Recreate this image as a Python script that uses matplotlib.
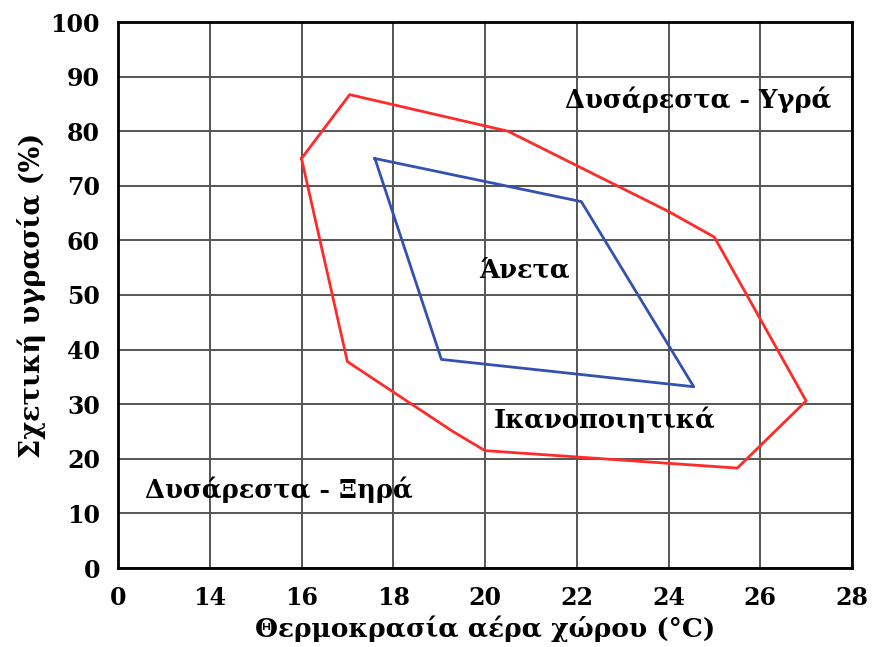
import matplotlib
matplotlib.use("Agg")
import matplotlib.pyplot as plt

# Data
red_x = [16.0, 17.05, 20.5, 24.0, 25.0, 27.0, 25.5, 20.0, 19.3, 17.0, 16.0]
red_y = [75.0, 86.7, 80.0, 65.3, 60.6, 30.6, 18.3, 21.5, 25.0, 37.8, 75.0]
blue_x = [17.6, 22.1, 24.55, 19.05, 17.6]
blue_y = [75.0, 67.1, 33.2, 38.2, 75.0]

x_ticks = [12, 14, 16, 18, 20, 22, 24, 26, 28]
x_labels = ["0", "14", "16", "18", "20", "22", "24", "26", "28"]
y_ticks = [0, 10, 20, 30, 40, 50, 60, 70, 80, 90, 100]

labels = ["Δυσάρεστα - Υγρά", "Άνετα", "Ικανοποιητικά", "Δυσάρεστα - Ξηρά"]
label_x = [24.65, 20.87, 22.6, 15.5]
label_y = [85.7, 54.6, 27.1, 14.3]

plt.rcParams['font.family'] = ['DejaVu Serif']
plt.rcParams['font.weight'] = 'bold'

fig = plt.figure(figsize=(8.72, 6.47), dpi=100)
ax = fig.add_axes([118/872, 1-568/647, (852-118)/872, (568-22)/647])

ax.plot(red_x, red_y, color='#ff2a2a', lw=2.0, zorder=3)
ax.plot(blue_x, blue_y, color='#3450b0', lw=2.0, zorder=3)

for t, x, y in zip(labels, label_x, label_y):
    ax.text(x, y, t, ha='center', va='center', fontsize=18.5, fontweight='bold', zorder=4)

ax.set_xlim(12, 28)
ax.set_ylim(0, 100)
ax.set_xticks(x_ticks)
ax.set_xticklabels(x_labels)
ax.set_yticks(y_ticks)
ax.tick_params(axis='y', length=0, labelsize=17, pad=13)
ax.tick_params(axis='x', length=0, labelsize=17, pad=13)
for lab in ax.get_xticklabels() + ax.get_yticklabels():
    lab.set_fontweight('bold')
ax.grid(True, color='#555555', lw=1.4)
ax.set_axisbelow(True)
for s in ax.spines.values():
    s.set_linewidth(2.0)
    s.set_color('black')

ax.set_xlabel("Θερμοκρασία αέρα χώρου (°C)", fontsize=19, fontweight='bold', labelpad=4)
ax.set_ylabel("Σχετική υγρασία (%)", fontsize=19.5, fontweight='bold', labelpad=3)

fig.savefig("out.png", dpi=100)
